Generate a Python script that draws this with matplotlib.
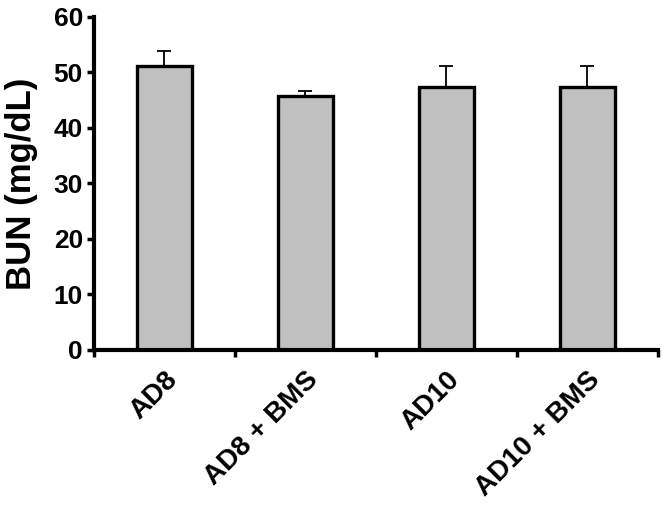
import matplotlib
matplotlib.use("Agg")
import matplotlib.pyplot as plt
import matplotlib.transforms as mtransforms
import numpy as np

categories = ["AD8", "AD8 + BMS", "AD10", "AD10 + BMS"]
means = [51.2, 45.7, 47.4, 47.4]
errors = [2.6, 0.9, 3.7, 3.7]
yticks = [0, 10, 20, 30, 40, 50, 60]

plt.rcParams['font.family'] = ['Liberation Sans', 'DejaVu Sans']
plt.rcParams['font.weight'] = 'bold'

fig = plt.figure(figsize=(6.68, 5.05), dpi=100)
ax = fig.add_axes([0.1407, 0.307, 0.844, 0.660])

x = np.arange(len(categories))
ax.bar(x, means, width=0.39, color='#c0c0c0', edgecolor='black', linewidth=2.4, zorder=2)
ax.errorbar(x, means, yerr=[np.zeros(len(errors)), errors], fmt='none', ecolor='black',
            elinewidth=1.3, capsize=5, capthick=1.3, zorder=1)

ax.set_xlim(-0.5, len(categories) - 0.5)
ax.set_ylim(0, 60)
ax.set_yticks(yticks)
ax.set_yticklabels([str(v) for v in yticks], fontsize=19, fontweight='bold')

ax.set_xticks(np.arange(len(categories) + 1) - 0.5)
ax.set_xticklabels([])
ax.set_xticks(x, minor=True)
ax.set_xticklabels(categories, minor=True, rotation=45, ha='right', va='top',
                   rotation_mode='anchor', fontsize=20, fontweight='bold')
offset = mtransforms.ScaledTranslation(5 / 100, 0, fig.dpi_scale_trans)
for lbl in ax.get_xticklabels(minor=True):
    lbl.set_transform(lbl.get_transform() + offset)
ax.tick_params(axis='x', which='minor', length=0, pad=12)
ax.tick_params(axis='x', which='major', length=5, width=2.5, direction='out')
ax.tick_params(axis='y', length=5, width=2.5, direction='out', pad=3)

for s in ['top', 'right']:
    ax.spines[s].set_visible(False)
for s in ['left', 'bottom']:
    ax.spines[s].set_linewidth(3)

ax.set_ylabel("BUN (mg/dL)", fontsize=25, fontweight='bold')
ax.yaxis.set_label_coords(-0.10, 0.5)

fig.savefig("out.png", dpi=100)
